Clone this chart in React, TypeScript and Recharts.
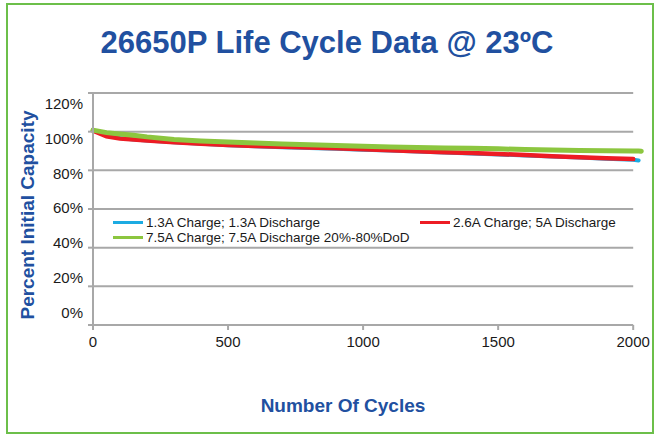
import React from 'react';
import {
  LineChart,
  Line,
  XAxis,
  YAxis,
  Legend,
  ReferenceLine,
} from 'recharts';

const cycles = [
  0, 50, 100, 150, 200, 300, 400, 500, 600, 700, 800, 900, 1000, 1100, 1200,
  1300, 1400, 1500, 1600, 1700, 1800, 1900, 2000, 2020, 2030,
];

const lowRate = [
  100.8, 98.0, 96.7, 96.0, 95.4, 94.5, 93.7, 93.0, 92.5, 92.0, 91.6, 91.2,
  90.7, 90.2, 89.7, 89.2, 88.7, 88.2, 87.7, 87.1, 86.6, 86.0, 85.5, 85.1, null,
];

const midRate = [
  100.5, 97.6, 96.4, 95.9, 95.4, 94.5, 93.8, 93.1, 92.6, 92.2, 91.8, 91.4,
  90.9, 90.4, 89.9, 89.4, 89.0, 88.5, 87.9, 87.3, 86.8, 86.3, 85.8, null, null,
];

const highRate = [
  100.8, 99.5, 98.8, 98.2, 97.3, 96.0, 95.2, 94.7, 94.1, 93.6, 93.2, 92.9,
  92.5, 92.1, 91.8, 91.6, 91.4, 91.1, 90.8, 90.5, 90.3, 90.1, 90.0, 90.0, 89.9,
];

const seriesNames = [
  '1.3A Charge; 1.3A Discharge',
  '2.6A Charge; 5A Discharge',
  '7.5A Charge; 7.5A Discharge 20%-80%DoD',
];

const xTicks = [0, 500, 1000, 1500, 2000];
const yTicks = [0, 20, 40, 60, 80, 100, 120];

const data = cycles.map((c, i) => ({
  cycle: c,
  low: lowRate[i],
  mid: midRate[i],
  high: highRate[i],
}));

const FONT = '"Liberation Sans", Arial, sans-serif';
const BLUE_TEXT = '#2150a0';
const GRID = '#a8a8a8';

// the y labels in the original drift a little against their gridlines
const YTick = (props: any) => {
  const { x, y, payload } = props;
  const shift = -1 + ((payload.value - 60) / 20) * 3.85;
  return (
    <text
      x={x}
      y={y + shift}
      dy="0.355em"
      textAnchor="end"
      fill="#1a1a1a"
      fontSize={15}
      fontFamily={FONT}
    >
      {payload.value}%
    </text>
  );
};

const renderLegend = (props: any) => {
  const { payload } = props;
  return (
    <div
      style={{
        display: 'grid',
        gridTemplateColumns: '307px auto',
        fontFamily: FONT,
        fontSize: 13.5,
        lineHeight: '15px',
        color: '#1a1a1a',
      }}
    >
      {(payload || []).map((entry: any) => (
        <div
          key={entry.value}
          style={{ display: 'flex', alignItems: 'center', whiteSpace: 'nowrap' }}
        >
          <span
            style={{
              display: 'inline-block',
              width: 30,
              height: 3,
              background: entry.color,
              marginRight: 3,
            }}
          />
          {entry.value}
        </div>
      ))}
    </div>
  );
};

export default function App() {
  return (
    <div
      style={{
        position: 'absolute',
        left: 0,
        top: 0,
        width: 662,
        height: 435,
        background: '#fff',
        overflow: 'hidden',
      }}
    >
      <div
        style={{
          position: 'absolute',
          left: 6,
          top: 3,
          width: 644,
          height: 427,
          border: '2px solid #6cbf4a',
        }}
      />
      <LineChart
        width={662}
        height={435}
        data={data}
        margin={{ top: 93, right: 18, bottom: 80, left: 33 }}
      >
        {yTicks.map((v) => (
          <ReferenceLine
            key={v}
            segment={[
              { x: 0, y: v },
              { x: 2000, y: v },
            ]}
            stroke={GRID}
            strokeWidth={2}
          />
        ))}
        <XAxis
          dataKey="cycle"
          type="number"
          domain={[0, 2040]}
          ticks={xTicks}
          axisLine={false}
          tickLine={{ stroke: GRID, strokeWidth: 2 }}
          tickSize={5}
          tickMargin={6}
          height={30}
          tick={{ fill: '#1a1a1a', fontSize: 15, fontFamily: FONT }}
        />
        <YAxis
          type="number"
          domain={[0, 120]}
          ticks={yTicks}
          width={60}
          axisLine={{ stroke: GRID, strokeWidth: 2 }}
          tickLine={{ stroke: GRID, strokeWidth: 2 }}
          tickSize={5}
          tickMargin={5}
          tick={<YTick />}
        />
        <Legend
          layout="vertical"
          align="center"
          verticalAlign="middle"
          content={renderLegend}
          wrapperStyle={{ left: 113, top: 214.5, width: 520, height: 30 }}
        />
        <Line
          dataKey="low"
          name={seriesNames[0]}
          stroke="#1cabe2"
          strokeWidth={4}
          strokeLinecap="round"
          dot={false}
          isAnimationActive={false}
        />
        <Line
          dataKey="mid"
          name={seriesNames[1]}
          stroke="#ed1c24"
          strokeWidth={4.5}
          strokeLinecap="round"
          dot={false}
          isAnimationActive={false}
        />
        <Line
          dataKey="high"
          name={seriesNames[2]}
          stroke="#8cc63f"
          strokeWidth={5}
          strokeLinecap="round"
          dot={false}
          isAnimationActive={false}
        />
      </LineChart>
      <div
        style={{
          position: 'absolute',
          left: 327,
          top: 27,
          transform: 'translateX(-50%)',
          fontFamily: FONT,
          fontWeight: 'bold',
          fontSize: 31,
          lineHeight: 1,
          color: BLUE_TEXT,
          whiteSpace: 'nowrap',
        }}
      >
        26650P Life Cycle Data @ 23ºC
      </div>
      <div
        style={{
          position: 'absolute',
          left: 27,
          top: 215,
          transform: 'translate(-50%, -50%) rotate(-90deg)',
          fontFamily: FONT,
          fontWeight: 'bold',
          fontSize: 19,
          lineHeight: 1,
          color: BLUE_TEXT,
          whiteSpace: 'nowrap',
        }}
      >
        Percent Initial Capacity
      </div>
      <div
        style={{
          position: 'absolute',
          left: 343,
          top: 396,
          transform: 'translateX(-50%)',
          fontFamily: FONT,
          fontWeight: 'bold',
          fontSize: 19,
          lineHeight: 1,
          color: BLUE_TEXT,
          whiteSpace: 'nowrap',
        }}
      >
        Number Of Cycles
      </div>
    </div>
  );
}
